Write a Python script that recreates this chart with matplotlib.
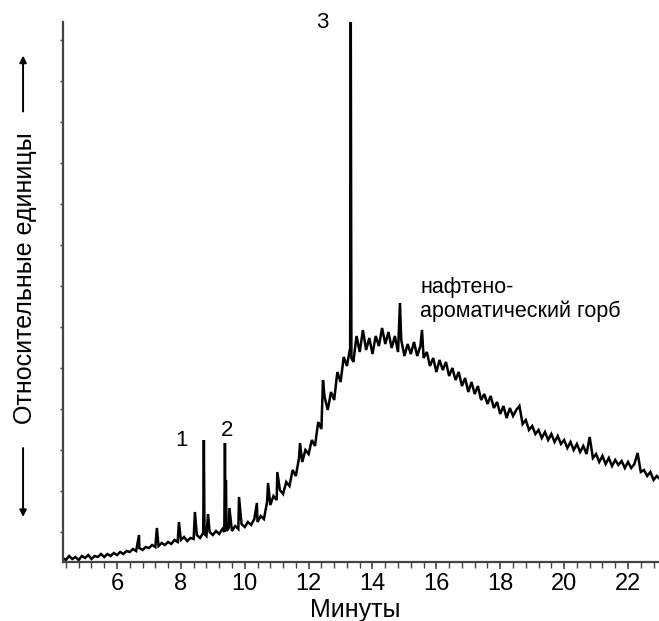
import matplotlib

matplotlib.use("Agg")
import matplotlib.pyplot as plt
from matplotlib.ticker import MultipleLocator

plt.rcParams["font.family"] = ["Liberation Sans", "DejaVu Sans"]

# время удерживания, мин
time_min = [
    4.3, 4.4, 4.5, 4.6, 4.7, 4.8, 4.9, 5.0, 5.1, 5.2,
    5.3, 5.4, 5.5, 5.6, 5.7, 5.8, 5.9, 6.0, 6.1, 6.2,
    6.3, 6.4, 6.5, 6.6, 6.69, 6.7, 6.8, 6.9, 7.0, 7.1,
    7.2, 7.25, 7.3, 7.4, 7.5, 7.6, 7.7, 7.8, 7.9, 7.94,
    8.0, 8.1, 8.2, 8.3, 8.4, 8.44, 8.5, 8.6, 8.7, 8.72,
    8.74, 8.8, 8.85, 8.9, 9.0, 9.1, 9.2, 9.3, 9.36, 9.38,
    9.40, 9.41, 9.43, 9.5, 9.52, 9.6, 9.7, 9.8, 9.82, 9.9,
    10.0, 10.1, 10.2, 10.3, 10.38, 10.4, 10.5, 10.6, 10.7, 10.73,
    10.8, 10.9, 11.0, 11.02, 11.1, 11.2, 11.3, 11.4, 11.5, 11.6,
    11.7, 11.73, 11.8, 11.9, 12.0, 12.1, 12.2, 12.3, 12.4, 12.45,
    12.5, 12.6, 12.7, 12.8, 12.9, 13.0, 13.1, 13.2, 13.3, 13.32,
    13.34, 13.4, 13.5, 13.6, 13.7, 13.8, 13.9, 14.0, 14.1, 14.2,
    14.3, 14.4, 14.5, 14.6, 14.7, 14.8, 14.86, 14.9, 15.0, 15.1,
    15.2, 15.3, 15.4, 15.5, 15.55, 15.6, 15.7, 15.8, 15.9, 16.0,
    16.1, 16.2, 16.3, 16.4, 16.5, 16.6, 16.7, 16.8, 16.9, 17.0,
    17.1, 17.2, 17.3, 17.4, 17.5, 17.6, 17.7, 17.8, 17.9, 18.0,
    18.1, 18.2, 18.3, 18.4, 18.5, 18.6, 18.7, 18.8, 18.9, 19.0,
    19.1, 19.2, 19.3, 19.4, 19.5, 19.6, 19.7, 19.8, 19.9, 20.0,
    20.1, 20.2, 20.3, 20.4, 20.5, 20.6, 20.7, 20.8, 20.9, 21.0,
    21.1, 21.2, 21.3, 21.4, 21.5, 21.6, 21.7, 21.8, 21.9, 22.0,
    22.1, 22.2, 22.3, 22.4, 22.5, 22.6, 22.7, 22.8, 22.9, 23.0,
]

# сигнал детектора, относительные единицы
signal = [
    4, 2, 6, 3, 5, 2, 6, 4, 7, 3,
    6, 5, 8, 5, 8, 6, 9, 7, 10, 8,
    11, 10, 13, 11, 27, 14, 12, 15, 14, 17,
    15, 34, 16, 19, 17, 20, 18, 22, 20, 40,
    22, 25, 21, 24, 23, 50, 27, 24, 29, 122,
    28, 26, 48, 30, 27, 31, 28, 33, 30, 119,
    32, 82, 31, 34, 54, 31, 36, 33, 65, 38,
    35, 40, 37, 43, 59, 40, 46, 43, 60, 79,
    57, 66, 62, 90, 72, 68, 80, 76, 92, 86,
    104, 119, 100, 112, 108, 122, 116, 140, 133, 182,
    165, 152, 170, 162, 190, 180, 205, 196, 214, 540,
    204, 200, 226, 210, 232, 212, 224, 208, 226, 216,
    234, 218, 230, 214, 226, 210, 259, 222, 206, 218,
    208, 220, 206, 216, 232, 204, 210, 196, 204, 190,
    202, 192, 200, 186, 194, 182, 190, 176, 184, 170,
    180, 168, 176, 162, 168, 158, 166, 154, 160, 148,
    156, 144, 154, 146, 152, 156, 138, 142, 132, 136,
    128, 132, 124, 130, 122, 128, 120, 126, 118, 122,
    114, 120, 112, 118, 110, 116, 108, 125, 104, 108,
    100, 106, 98, 104, 96, 102, 97, 101, 94, 100,
    94, 98, 109, 90, 92, 86, 90, 82, 86, 83,
]

# подписи пиков: номер, время, высота подписи
peak_labels = ["1", "2", "3"]
peak_label_time = [8.03, 9.44, 12.42]
peak_label_height = [122, 132, 540]

hump_text = ["нафтено-", "ароматический горб"]


fig = plt.figure(figsize=(6.59, 6.21), dpi=100)
ax = fig.add_axes([63 / 659, 59 / 621, 596 / 659, 540 / 621])

ax.plot(time_min, signal, color="black", lw=1.8, solid_joinstyle="miter")

ax.set_xlim(4.31, 22.97)
ax.set_ylim(0, 540)

for side in ("top", "right"):
    ax.spines[side].set_visible(False)
for side in ("left", "bottom"):
    ax.spines[side].set_color("#444444")
    ax.spines[side].set_linewidth(1.6)

ax.xaxis.set_minor_locator(MultipleLocator(0.4))
ax.set_xticks(range(6, 23, 2))
ax.tick_params(axis="x", which="major", length=5, width=1.2, pad=3,
               labelsize=17, color="#444444")
ax.tick_params(axis="x", which="minor", length=4, width=1.0, color="#444444")

ax.set_yticks([30 + 41 * k for k in range(13)])
ax.set_yticklabels([])
ax.tick_params(axis="y", which="major", length=2.5, width=1.0, color="#444444")

ax.set_xlabel("Минуты", fontsize=18)
ax.xaxis.set_label_coords(0.49, -0.066)

for lab, t, h in zip(peak_labels, peak_label_time, peak_label_height):
    ax.text(t, h, lab, fontsize=16, ha="center", va="center", clip_on=False)

ax.text(15.49, 269, hump_text[0], fontsize=15.5, ha="left", va="baseline")
ax.text(15.49, 245, hump_text[1], fontsize=15.5, ha="left", va="baseline")

# подпись оси Y со стрелками
fig.text(0.038, 0.552, "Относительные единицы", rotation=90, fontsize=18,
         ha="center", va="center")
ax.annotate("", xy=(0.035, 0.915), xytext=(0.035, 0.816),
            xycoords="figure fraction", textcoords="figure fraction",
            arrowprops=dict(arrowstyle="-|>", color="black", lw=1.4,
                            mutation_scale=10))
ax.annotate("", xy=(0.035, 0.163), xytext=(0.035, 0.283),
            xycoords="figure fraction", textcoords="figure fraction",
            arrowprops=dict(arrowstyle="-|>", color="black", lw=1.4,
                            mutation_scale=10))

fig.savefig("out.png", dpi=100)
